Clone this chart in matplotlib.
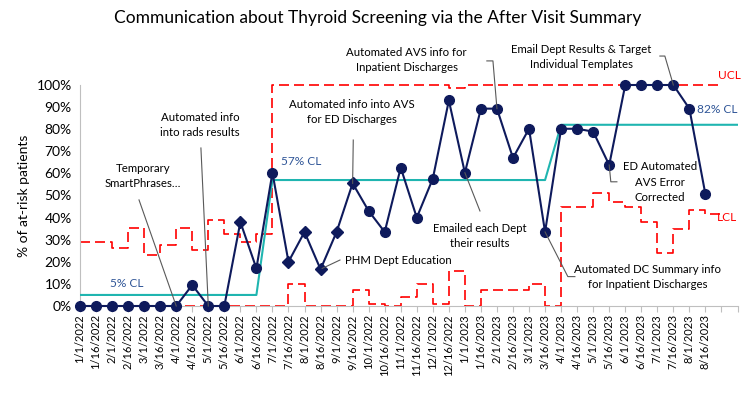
import matplotlib
matplotlib.use("Agg")
import matplotlib.pyplot as plt
import numpy as np

plt.rcParams['font.family'] = ['Lato', 'DejaVu Sans']

# --- data ---
dates = ["1/1/2022", "1/16/2022", "2/1/2022", "2/16/2022", "3/1/2022", "3/16/2022",
         "4/1/2022", "4/16/2022", "5/1/2022", "5/16/2022", "6/1/2022", "6/16/2022",
         "7/1/2022", "7/16/2022", "8/1/2022", "8/16/2022", "9/1/2022", "9/16/2022",
         "10/1/2022", "10/16/2022", "11/1/2022", "11/16/2022", "12/1/2022", "12/16/2022",
         "1/1/2023", "1/16/2023", "2/1/2023", "2/16/2023", "3/1/2023", "3/16/2023",
         "4/1/2023", "4/16/2023", "5/1/2023", "5/16/2023", "6/1/2023", "6/16/2023",
         "7/1/2023", "7/16/2023", "8/1/2023", "8/16/2023"]

pct = [0, 0, 0, 0, 0, 0, 0, 9.5, 0, 0, 38, 17,
       60.3, 20, 33.5, 16.6, 33.5, 55.5, 43, 33.5, 62.6, 40, 57.6, 93,
       60.3, 89.3, 89.3, 67, 80.2, 33.5, 80.2, 80.2, 78.9, 63.8, 100, 100,
       100, 100, 89.3, 50.5]

# points flagged as special cause (drawn as diamonds)
signal_idx = [10, 13, 14, 15, 16, 17]

# centre line per phase (extends over the two empty slots at the end)
cl = [5] * 12 + [57] * 18 + [82] * 12

ucl = [29, 29, 26.1, 35.1, 23, 27.6, 35.1, 25.2, 38.8, 32.4, 29, 32.7,
       100, 100, 100, 100, 100, 100, 100, 100, 100, 100, 100, 98.8,
       100, 100, 100, 100, 100, 100, 100, 100, 100, 100, 100, 100,
       100, 100, 100, 100]

lcl = [0] * 12 + [0, 9.8, 0, 0, 0, 7.2, 1, 0, 4.2, 9.8, 1, 16,
                  0, 7.2, 7.2, 7.2, 9.8, 0] + [45, 45, 51, 47, 45, 38, 24, 34.7, 43.3, 41.5]

navy = '#0E1A5C'
teal = '#1FB5B0'
red = '#FF0000'
grey = '#595959'
blue_txt = '#2F5597'

fig = plt.figure(figsize=(7.48, 3.95), dpi=100)
ax = fig.add_axes([80 / 748, 1 - 306 / 395, 657.5 / 748, 221 / 395])

n = len(pct)
x = np.arange(n)
y = np.array(pct) / 100

# control limits as steps
xs = np.arange(n + 1)
ax.step(xs, np.append(ucl, ucl[-1]) / 100, where='post', color=red, lw=1.2,
        ls=(0, (6, 3)), zorder=2, clip_on=False)
ax.step(xs, np.append(lcl, lcl[-1]) / 100, where='post', color=red, lw=1.2,
        ls=(0, (6, 3)), zorder=2, clip_on=False)

# centre line
ax.plot(np.arange(len(cl)), np.array(cl) / 100, color=teal, lw=1.5, zorder=3)

# data line + markers
ax.plot(x, y, color=navy, lw=1.5, zorder=4, clip_on=False)
circ = [i for i in range(n) if i not in signal_idx]
ax.plot(x[circ], y[circ], 'o', color=navy, ms=7, zorder=5, clip_on=False)
ax.plot(x[signal_idx], y[signal_idx], 'D', color=navy, ms=6, zorder=5, clip_on=False)

ax.set_xlim(0, 41)
ax.set_ylim(0, 1)
ax.set_xticks(np.arange(42))
ax.set_xticklabels(dates + ["", ""], rotation=90, fontsize=8)
ax.set_yticks(np.arange(0, 1.01, 0.1))
ax.set_yticklabels([f"{v}%" for v in range(0, 101, 10)], fontsize=10)
ax.tick_params(axis='x', length=4, color='#BFBFBF', pad=2)
ax.tick_params(axis='y', length=0, pad=6)
for s in ['top', 'right']:
    ax.spines[s].set_visible(False)
for s in ['left', 'bottom']:
    ax.spines[s].set_color('#BFBFBF')
ax.set_ylabel('% of at-risk patients', fontsize=10)
ax.yaxis.set_label_coords(-0.076, 0.5)

fig.suptitle('Communication about Thyroid Screening via the After Visit Summary',
             x=0.505, y=0.975, fontsize=12.5)

# limit / centre labels
lab = dict(fontsize=8.6, va='center')
ax.text(2.9, 0.104, '5% CL', color=blue_txt, ha='center', **lab)
ax.text(13.81, 0.653, '57% CL', color=blue_txt, ha='center', **lab)
ax.text(38.47, 0.891, '82% CL', color=blue_txt, ha='left', **lab)
ax.text(39.78, 1.042, 'UCL', color=red, ha='left', **lab)
ax.text(39.71, 0.40, 'LCL', color=red, ha='left', **lab)

# annotations: (text, text pos, alignment, leader line points)
notes = [
    ("Temporary\nSmartPhrases…", (3.93, 0.59), 'center', [(3.68, 0.48), (6, 0)]),
    ("Automated info\ninto rads results", (7.48, 0.817), 'center', [(7.54, 0.715), (8, 0)]),
    ("Automated info into AVS\nfor ED Discharges", (16.94, 0.878), 'center',
     [(17.04, 0.751), (17, 0.555)]),
    ("PHM Dept Education", (16.52, 0.208), 'left', [(15.1, 0.17), (16.21, 0.208)]),
    ("Automated AVS info for\nInpatient Discharges", (20.37, 1.111), 'center',
     [(25.37, 1.109), (25.75, 1.109), (26, 0.893)]),
    ("Emailed each Dept\ntheir results", (24.94, 0.317), 'center',
     [(24, 0.603), (24.94, 0.43)]),
    ("Automated DC Summary info\nfor Inpatient Discharges", (35.41, 0.133), 'center',
     [(29, 0.335), (30.42, 0.133), (30.86, 0.133)]),
    ("Email Dept Results & Target\nIndividual Templates", (31.28, 1.127), 'center',
     [(36.16, 1.131), (36.47, 1.131), (37, 1.0)]),
    ("ED Automated\nAVS Error\nCorrected", (36.16, 0.561), 'center',
     [(33, 0.638), (33.1, 0.562), (33.48, 0.562)]),
]
for txt, (tx, ty), ha, pts in notes:
    ax.text(tx, ty, txt, fontsize=8.2, ha=ha, va='center', linespacing=1.45,
            color='black', zorder=6)
    px, py = zip(*pts)
    ax.plot(px, py, color=grey, lw=0.8, zorder=6, clip_on=False)

fig.savefig('out.png', dpi=100)
